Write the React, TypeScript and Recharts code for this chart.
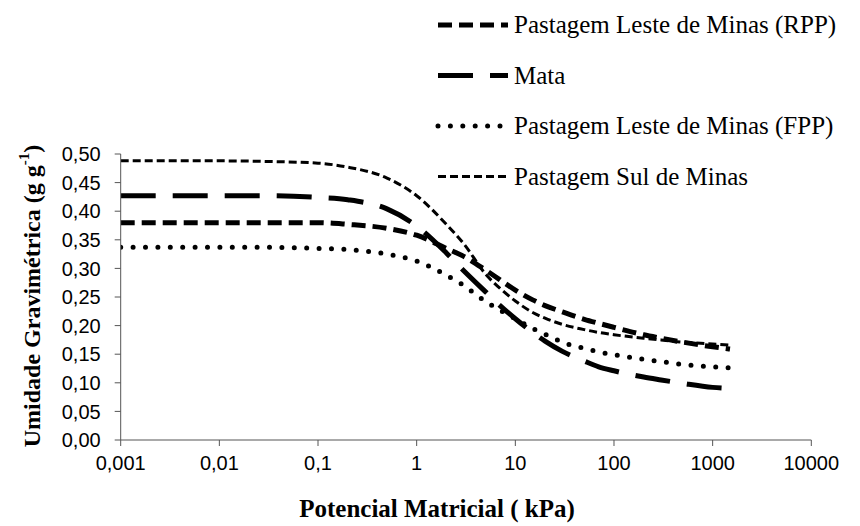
import React from "react";
import { LineChart, Line, XAxis, YAxis } from "recharts";

// potencial matricial (kPa)
const kpa = [0.001, 0.01, 0.03, 0.1, 0.2, 0.5, 1, 2, 3, 5, 7, 10, 15, 20, 30, 50, 70, 100, 200, 300, 500, 1000, 1500];

const rpp = [0.380, 0.380, 0.380, 0.380, 0.377, 0.370, 0.358, 0.335, 0.321, 0.297, 0.280, 0.262, 0.245, 0.235, 0.224, 0.211, 0.204, 0.197, 0.184, 0.178, 0.171, 0.163, 0.159];
const mata = [0.427, 0.427, 0.427, 0.424, 0.420, 0.404, 0.374, 0.327, 0.296, 0.259, 0.235, 0.212, 0.188, 0.173, 0.155, 0.138, 0.128, 0.121, 0.110, 0.105, 0.099, 0.092, 0.090];
const fpp = [0.337, 0.337, 0.337, 0.335, 0.333, 0.325, 0.313, 0.288, 0.270, 0.242, 0.227, 0.212, 0.195, 0.185, 0.171, 0.160, 0.154, 0.149, 0.141, 0.137, 0.132, 0.128, 0.126];
const sul = [0.488, 0.488, 0.487, 0.484, 0.477, 0.458, 0.427, 0.377, 0.343, 0.290, 0.265, 0.243, 0.223, 0.213, 0.202, 0.193, 0.188, 0.184, 0.178, 0.175, 0.171, 0.168, 0.166];

const xTicks = [0.001, 0.01, 0.1, 1, 10, 100, 1000, 10000];
const yTicks = [0, 0.05, 0.1, 0.15, 0.2, 0.25, 0.3, 0.35, 0.4, 0.45, 0.5];

const data = kpa.map((k, i) => ({ kpa: k, rpp: rpp[i], mata: mata[i], fpp: fpp[i], sul: sul[i] }));

const series = [
  { key: "rpp", name: "Pastagem Leste de Minas (RPP)", width: 5, dash: "14 7", cap: "butt" },
  { key: "mata", name: "Mata", width: 5, dash: "35 17", cap: "butt" },
  { key: "fpp", name: "Pastagem Leste de Minas (FPP)", width: 5, dash: "0 12.4", cap: "round" },
  { key: "sul", name: "Pastagem Sul de Minas", width: 3, dash: "8 4", cap: "butt" },
];

const serif = '"Times New Roman", "Liberation Serif", serif';
const sans = 'Arial, "Liberation Sans", sans-serif';

const fmt = (v: number, d?: number) =>
  (d !== undefined ? v.toFixed(d) : String(v)).replace(".", ",");

export default function App() {
  return (
    <div style={{ position: "absolute", left: 0, top: 0, width: 860, height: 526, background: "#fff" }}>
      <LineChart width={860} height={526} data={data}
        margin={{ top: 154, right: 48.7, bottom: 46, left: 60.7 }}>
        <XAxis dataKey="kpa" type="number" scale="log" domain={[0.001, 10000]} ticks={xTicks}
          allowDataOverflow height={40} tickSize={6} tickMargin={10}
          stroke="#555" tickFormatter={(v) => fmt(v)}
          tick={{ fill: "#000", fontSize: 20, fontFamily: sans }} />
        <YAxis type="number" domain={[0, 0.5]} ticks={yTicks} width={60} tickSize={6} tickMargin={14}
          stroke="#555" tickFormatter={(v) => fmt(v, 2)}
          tick={{ fill: "#000", fontSize: 20, fontFamily: sans }} />
        {series.map((s) => (
          <Line key={s.key} dataKey={s.key} name={s.name} type="monotone" stroke="#000"
            strokeWidth={s.width} strokeDasharray={s.dash} strokeLinecap={s.cap as any}
            dot={false} activeDot={false} isAnimationActive={false} />
        ))}
      </LineChart>
      <svg width={860} height={526} style={{ position: "absolute", left: 0, top: 0, pointerEvents: "none" }}>
        {series.map((s, i) => {
          const y = 25 + i * 50.5;
          return (
            <g key={s.key}>
              <line x1={438} x2={508} y1={y} y2={y} stroke="#000" strokeWidth={s.width}
                strokeDasharray={s.dash} strokeLinecap={s.cap as any} />
              <text x={514} y={y + 8} fontFamily={serif} fontSize={25} fill="#000">{s.name}</text>
            </g>
          );
        })}
        <text x={437} y={517} textAnchor="middle" fontFamily={serif} fontWeight="bold" fontSize={25} fill="#000">
          Potencial Matricial ( kPa)
        </text>
        <text transform="translate(32,296) rotate(-90)" textAnchor="middle" fontFamily={serif}
          fontWeight="bold" fontSize={24} fill="#000" dominantBaseline="central">
          Umidade Gravimétrica  (g g<tspan dy={-8} fontSize={15}>-1</tspan><tspan dy={8}>)</tspan>
        </text>
      </svg>
    </div>
  );
}
